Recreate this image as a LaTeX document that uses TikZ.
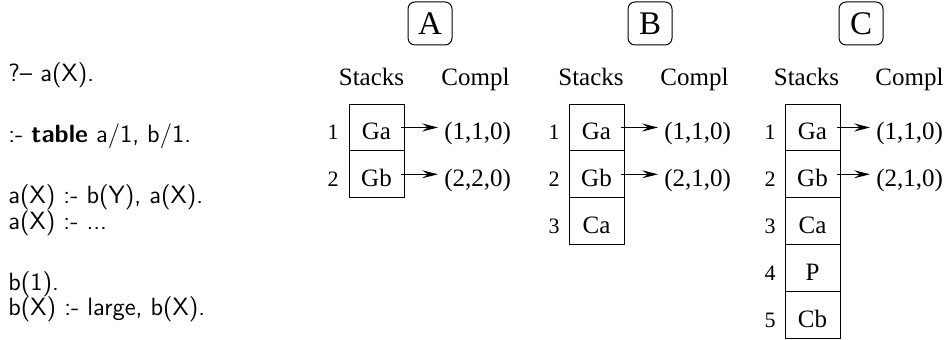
\documentclass[tikz,border=0pt]{standalone}
\usepackage{fontspec}
\setmainfont{Liberation Serif}
\usepackage{tikz}
\usetikzlibrary{positioning, arrows.meta}

\begin{document}
\begin{tikzpicture}[x=0.5pt, y=-0.5pt,
    every node/.style={font=\fontsize{12.5}{13}\selectfont},
    prog/.style={anchor=base west, inner sep=0pt, font=\sffamily\fontsize{12.5}{13}\selectfont},
    title/.style={draw, line width=0.5pt, rounded corners=3.5pt, minimum width=22pt, minimum height=21.5pt, inner sep=0pt, font=\fontsize{16.5}{17}\selectfont},
    head/.style={anchor=base, inner sep=0pt},
    cell/.style={draw, line width=0.5pt, minimum width=27.5pt, minimum height=23.4pt, inner sep=0pt, outer sep=0pt, text height=12.5pt, text depth=0pt},
    num/.style={inner sep=0pt, text height=12.5pt, text depth=0pt, font=\fontsize{11}{13}\selectfont},
    tuple/.style={inner sep=3pt, text height=12.5pt, text depth=0pt},
    link/.style={-{Stealth[length=8pt, width=4pt, inset=3pt]}, line width=0.5pt}]
    \useasboundingbox (0,0) rectangle (951,340);

    % program
    \node[prog] (q)   at (8,82)  {?-- a(X).};
    \node[prog] (tbl) at (8,143) {:- \textbf{table} a/1, b/1.};
    \node[prog] (ra1) at (8,204) {a(X) :- b(Y), a(X).};
    \node[prog] (ra2) at (8,230) {a(X) :- ...};
    \node[prog] (rb1) at (8,291) {b(1).};
    \node[prog] (rb2) at (8,316) {b(X) :- large, b(X).};

    % state A
    \node[title] (ta) at (430,23.5) {A};
    \node[head] (sa) at (371.5,86) {Stacks};
    \node[head] (ca) at (475.5,86) {Compl};
    \node[cell] (a1) at (376.5,127.5) {Ga};
    \node[cell, below=0pt of a1] (a2) {Gb};
    \node[num] (an1) at ([xshift=-21.75pt]a1.center) {1};
    \node[num] (an2) at ([xshift=-21.75pt]a2.center) {2};
    \node[tuple, right=17pt of a1.east] (at1) {(1,1,0)};
    \node[tuple, right=17pt of a2.east] (at2) {(2,2,0)};
    \draw[link] ([xshift=-1.5pt]a1.east) -- (at1.west);
    \draw[link] ([xshift=-1.5pt]a2.east) -- (at2.west);

    % state B
    \node[title] (tb) at (650,23.5) {B};
    \node[head] (sb) at (591,86) {Stacks};
    \node[head] (cb) at (694.5,86) {Compl};
    \node[cell] (b1) at (596.5,127.5) {Ga};
    \node[cell, below=0pt of b1] (b2) {Gb};
    \node[cell, below=0pt of b2] (b3) {Ca};
    \node[num] (bn1) at ([xshift=-21.25pt]b1.center) {1};
    \node[num] (bn2) at ([xshift=-21.25pt]b2.center) {2};
    \node[num] (bn3) at ([xshift=-21.25pt]b3.center) {3};
    \node[tuple, right=17pt of b1.east] (bt1) {(1,1,0)};
    \node[tuple, right=17pt of b2.east] (bt2) {(2,1,0)};
    \draw[link] ([xshift=-1.5pt]b1.east) -- (bt1.west);
    \draw[link] ([xshift=-1.5pt]b2.east) -- (bt2.west);

    % state C
    \node[title] (tc) at (861,23.5) {C};
    \node[head] (sc) at (806.5,86) {Stacks};
    \node[head] (cc) at (909.5,86) {Compl};
    \node[cell] (c1) at (812.5,127.5) {Ga};
    \node[cell, below=0pt of c1] (c2) {Gb};
    \node[cell, below=0pt of c2] (c3) {Ca};
    \node[cell, below=0pt of c3] (c4) {P};
    \node[cell, below=0pt of c4] (c5) {Cb};
    \node[num] (cn1) at ([xshift=-21.25pt]c1.center) {1};
    \node[num] (cn2) at ([xshift=-21.25pt]c2.center) {2};
    \node[num] (cn3) at ([xshift=-21.25pt]c3.center) {3};
    \node[num] (cn4) at ([xshift=-21.25pt]c4.center) {4};
    \node[num] (cn5) at ([xshift=-21.25pt]c5.center) {5};
    \node[tuple, right=15pt of c1.east] (ct1) {(1,1,0)};
    \node[tuple, right=15pt of c2.east] (ct2) {(2,1,0)};
    \draw[link] ([xshift=-1.5pt]c1.east) -- (ct1.west);
    \draw[link] ([xshift=-1.5pt]c2.east) -- (ct2.west);
\end{tikzpicture}
\end{document}
